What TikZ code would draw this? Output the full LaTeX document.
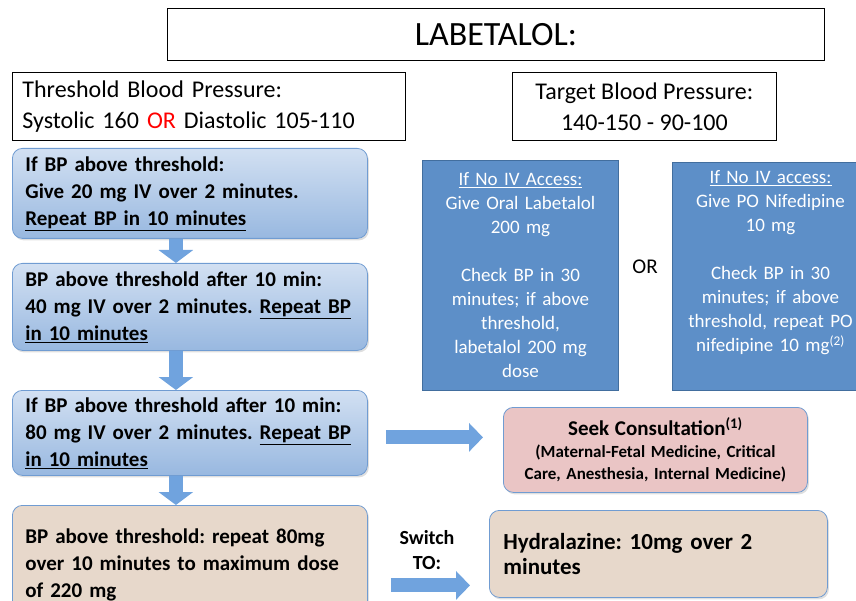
\documentclass[tikz,border=0pt]{standalone}
\usepackage{fontspec}
\setmainfont{Carlito}
\frenchspacing
\usepackage{tikz}
\usetikzlibrary{shapes,arrows.meta,shadows,positioning}

\definecolor{bordB}{RGB}{112,156,210}
\definecolor{topB}{RGB}{210,224,242}
\definecolor{botB}{RGB}{152,184,224}
\definecolor{tanB}{RGB}{231,216,203}
\definecolor{pinkB}{RGB}{234,197,197}
\definecolor{flatB}{RGB}{93,143,200}
\definecolor{bordF}{RGB}{66,110,158}
\definecolor{arrB}{RGB}{112,163,222}

\begin{document}
\begin{tikzpicture}[x=1pt,y=-1pt]
            \useasboundingbox (0,0) rectangle (856,601);
            \clip (0,0) rectangle (856,601);

            \tikzstyle{plain}=[rectangle,draw=black,line width=0.8pt,anchor=north west,inner sep=0pt]
            \tikzstyle{card}=[rectangle,rounded corners=10pt,draw=bordB,line width=0.8pt,anchor=north west,
                align=left,inner xsep=13pt,inner ysep=0pt,text width=329pt,minimum width=355pt,
                drop shadow={opacity=0.25,shadow xshift=1.5pt,shadow yshift=-2pt},
                font=\fontsize{21}{27}\selectfont\bfseries]

            \tikzstyle{S}=[card,top color=topB,bottom color=botB]    % IV step
            \tikzstyle{T}=[card,fill=tanB]                           % switch / max dose
            \tikzstyle{P}=[card,fill=pinkB,align=center]             % consultation
            \tikzstyle{F}=[rectangle,draw=bordF,line width=1pt,fill=flatB,text=white,anchor=north west,
                align=center,inner xsep=5pt,text width=186pt,minimum width=196pt,
                font=\fontsize{19}{24}\selectfont]                   % no IV access

            \tikzstyle{D}=[arrB,line width=14pt,-{Triangle[width=34pt,length=13pt]}]  % down arrow
            \tikzstyle{R}=[arrB,line width=14pt,-{Triangle[width=28pt,length=14pt]}]  % right arrow

            \node[plain,minimum width=657pt,minimum height=52pt,font=\fontsize{34}{36}\selectfont]
                (title) at (167,8) {LABETALOL:};

            \node[plain,minimum width=393pt,minimum height=68pt,align=left,inner xsep=10pt,text width=373pt,
                font=\fontsize{24}{31}\selectfont] (thr) at (12,72)
                {Threshold Blood Pressure:\\Systolic 160 \textcolor{red}{OR} Diastolic 105-110};
            \node[plain,minimum width=264pt,minimum height=68pt,align=center,
                font=\fontsize{24}{31}\selectfont] (tgt) at (512,72)
                {Target Blood Pressure:\\140-150 - 90-100};

            \node[S,minimum height=90pt] (s1) at (12,148)
                {If BP above threshold:\\Give 20 mg IV over 2 minutes.\\\underline{Repeat BP in 10 minutes}};
            \node[S,minimum height=87pt] (s2) at (12,263)
                {BP above threshold after 10 min:\\40 mg IV over 2 minutes. \underline{Repeat BP}\\\underline{in 10 minutes}};
            \node[S,minimum height=85pt] (s3) at (12,390)
                {If BP above threshold after 10 min:\\80 mg IV over 2 minutes. \underline{Repeat BP}\\\underline{in 10 minutes}};
            \node[T,minimum height=120pt] (s4) at (12,505)
                {BP above threshold: repeat 80mg\\over 10 minutes to maximum dose\\of 220 mg};

            \node[F,minimum height=230pt] (po1) at (422,160)
                {\underline{If No IV Access:}\\Give Oral Labetalol\\200 mg\\[24pt]Check BP in 30\\minutes; if above\\threshold,\\labetalol 200 mg\\dose};
            \node[font=\fontsize{21}{24}\selectfont] (or) at (645,267) {OR};
            \node[F,minimum height=228pt] (po2) at (672,162)
                {\underline{If No IV access:}\\Give PO Nifedipine\\10 mg\\[24pt]Check BP in 30\\minutes; if above\\threshold, repeat PO\\nifedipine 10 mg\textsuperscript{(2)}\\\strut};

            \node[P,minimum width=304pt,text width=284pt,inner xsep=10pt,minimum height=85pt,
                font=\fontsize{17}{22}\selectfont\bfseries] (cons) at (503,407)
                {{\fontsize{21}{22}\selectfont Seek Consultation\textsuperscript{(1)}}\\(Maternal-Fetal Medicine, Critical\\Care, Anesthesia, Internal Medicine)};
            \node[T,minimum width=338pt,text width=310pt,inner xsep=14pt,minimum height=87pt,
                font=\fontsize{23}{25}\selectfont\bfseries] (hyd) at (489,510)
                {Hydralazine: 10mg over 2\\minutes};
            \node[align=center,font=\fontsize{20}{25}\selectfont\bfseries] (sw) at (427,550) {Switch\\TO:};

            \coordinate (a1) at ([yshift=-4.5pt]s3.east);
            \coordinate (a2) at ([yshift=-20pt]s4.east);

            \draw[D] ([xshift=-14pt]s1.south) -- ([xshift=-14pt]s2.north);
            \draw[D] ([xshift=-14pt]s2.south) -- ([xshift=-14pt]s3.north);
            \draw[D] ([xshift=-14pt]s3.south) -- ([xshift=-14pt]s4.north);
            \draw[R,shorten <=18pt,shorten >=20pt] (a1) -- (a1 -| cons.west);
            \draw[R,shorten <=23pt,shorten >=19pt] (a2) -- (a2 -| hyd.west);
        \end{tikzpicture}
\end{document}
